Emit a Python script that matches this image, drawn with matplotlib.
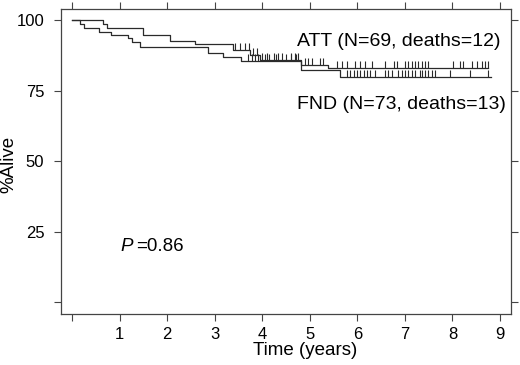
import numpy as np
import matplotlib
matplotlib.use("Agg")
from matplotlib import pyplot as plt

plt.rcParams['font.family'] = ['Liberation Sans', 'DejaVu Sans']

# Kaplan-Meier steps (time in years, % alive)
att_times = [0, 0.65, 0.73, 1.50, 2.06, 2.58, 3.38, 3.75, 3.95, 4.82, 5.38, 8.75]
att_surv = [100, 98.6, 97.2, 94.7, 92.7, 91.5, 89.5, 87.5, 86.0, 84.0, 83.0, 83.0]
fnd_times = [0, 0.17, 0.25, 0.57, 0.83, 1.18, 1.27, 1.43, 2.87, 3.18, 3.55, 4.82, 5.63, 8.8]
fnd_surv = [100, 98.6, 97.2, 95.9, 94.7, 93.5, 92.2, 90.5, 88.5, 86.8, 85.5, 82.3, 79.8, 79.8]

# censoring marks
att_cens = [3.43, 3.53, 3.64, 3.72, 3.80, 3.88, 4.00, 4.10, 4.25, 4.33, 4.42, 4.60, 4.68,
            4.75, 4.90, 4.97, 5.04, 5.21, 5.28, 5.57, 5.67, 5.78, 5.95, 6.06, 6.16, 6.30,
            6.58, 6.76, 6.83, 7.00, 7.07, 7.14, 7.21, 7.28, 7.35, 7.42, 7.49, 8.02, 8.16,
            8.23, 8.40, 8.51, 8.61, 8.68, 8.75]
fnd_cens = [3.70, 3.78, 3.85, 3.92, 4.05, 4.15, 4.30, 4.50, 4.60, 4.72, 5.78, 5.85, 5.92,
            5.99, 6.06, 6.13, 6.20, 6.27, 6.37, 6.58, 6.65, 6.72, 6.86, 6.93, 7.00, 7.07,
            7.14, 7.21, 7.32, 7.35, 7.42, 7.49, 7.56, 7.63, 7.95, 8.37, 8.75]

x_ticks = [0, 1, 2, 3, 4, 5, 6, 7, 8, 9]
x_labels = ['', '1', '2', '3', '4', '5', '6', '7', '8', '9']
y_ticks = [0, 25, 50, 75, 100]
y_labels = ['', '25', '50', '75', '100']

fig = plt.figure(figsize=(5.2, 3.65), dpi=100)
ax = fig.add_axes([0.1173, 0.1397, 0.8654, 0.8356])

line_col = '#2a2a2a'
for t, s, c in [(att_times, att_surv, att_cens), (fnd_times, fnd_surv, fnd_cens)]:
    ax.step(t, s, where='post', color=line_col, lw=0.9)
    idx = np.searchsorted(t, c, side='right') - 1
    ax.plot(c, np.array(s)[idx], ls='none', marker=2, ms=5, mew=0.8, color=line_col)

ax.text(4.73, 92.4, 'ATT (N=69, deaths=12)', fontsize=14, va='center', ha='left')
ax.text(4.73, 70.2, 'FND (N=73, deaths=13)', fontsize=14, va='center', ha='left')
ax.text(1.02, 19.9, 'P', fontsize=13.5, style='italic', va='center', ha='left')
ax.text(1.35, 19.9, '=0.86', fontsize=13.5, va='center', ha='left')

ax.set_xlim(-0.23, 9.23)
ax.set_ylim(-4.1, 103.9)
ax.set_xticks(x_ticks)
ax.set_xticklabels(x_labels)
ax.set_yticks(y_ticks)
ax.set_yticklabels(y_labels)
ax.tick_params(direction='out', length=5, width=0.8, color='#444', labelsize=12,
               top=True, right=True)
ax.tick_params(axis='x', pad=4)
ax.tick_params(axis='y', pad=7)
for sp in ax.spines.values():
    sp.set_color('#444')
    sp.set_linewidth(0.9)

ax.set_xlabel('Time (years)', fontsize=13.5)
ax.xaxis.set_label_coords(0.542, -0.092)
ax.set_ylabel('%Alive', fontsize=13.5)
ax.yaxis.set_label_coords(-0.097, 0.49)

fig.savefig('out.png', dpi=100)
